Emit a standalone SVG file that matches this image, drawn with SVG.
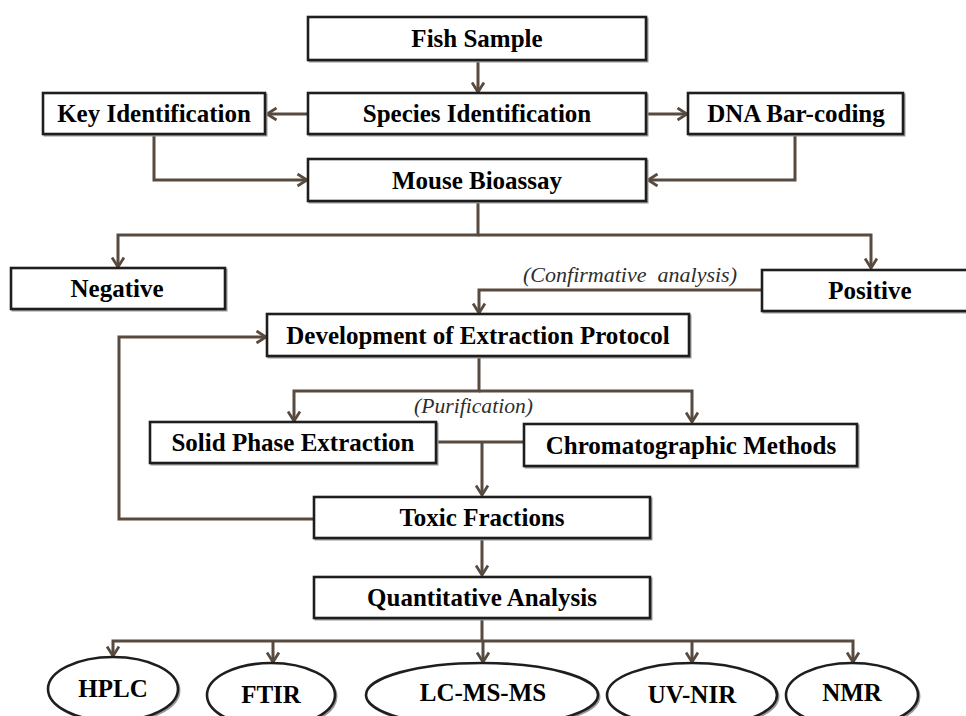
<svg xmlns="http://www.w3.org/2000/svg" width="966" height="716" viewBox="0 0 966 716">
  <defs>
    <style>
      .box { fill: #ffffff; stroke: #1e1e1e; stroke-width: 2.6; }
      .shadow { fill: none; stroke: #9a9a9a; stroke-width: 2; }
      .oval { fill: #ffffff; stroke: #1e1e1e; stroke-width: 2.6; }
      .label { font-family: "Liberation Serif", "Times New Roman", serif; font-weight: bold; font-size: 25px; fill: #000000; text-anchor: middle; }
      .note { font-family: "Liberation Serif", "Times New Roman", serif; font-style: italic; font-size: 21px; fill: #2e2e2e; }
      .wire { fill: none; stroke: #584a3e; stroke-width: 3; stroke-linejoin: miter; }
    </style>
    <marker id="arrow" viewBox="0 0 12 14" refX="11" refY="7" markerWidth="12" markerHeight="14" markerUnits="userSpaceOnUse" orient="auto">
      <path d="M1.5,1 L11,7 L1.5,13" fill="none" stroke="#584a3e" stroke-width="2.8"/>
    </marker>
  </defs>
  <rect width="966" height="716" fill="#ffffff"/>

  <!-- connectors -->
  <g id="connectors">
    <path class="wire" d="M478,61 V92" marker-end="url(#arrow)"/>
    <path class="wire" d="M308,114 H267" marker-end="url(#arrow)"/>
    <path class="wire" d="M647,114 H687" marker-end="url(#arrow)"/>
    <path class="wire" d="M154,134 V180 H307" marker-end="url(#arrow)"/>
    <path class="wire" d="M795,134 V180 H648" marker-end="url(#arrow)"/>
    <path class="wire" d="M478,202 V235 H118 V267" marker-end="url(#arrow)"/>
    <path class="wire" d="M478,235 H871 V268" marker-end="url(#arrow)"/>
    <path class="wire" d="M762,290 H479 V313" marker-end="url(#arrow)"/>
    <path class="wire" d="M314,519 H119 V337 H266" marker-end="url(#arrow)"/>
    <path class="wire" d="M479,357 V391 H294 V421" marker-end="url(#arrow)"/>
    <path class="wire" d="M479,391 H692 V422" marker-end="url(#arrow)"/>
    <path class="wire" d="M437,442 H524"/>
    <path class="wire" d="M482,442 V495" marker-end="url(#arrow)"/>
    <path class="wire" d="M482,539 V575" marker-end="url(#arrow)"/>
    <path class="wire" d="M482,619 V641 H113 V656" marker-end="url(#arrow)"/>
    <path class="wire" d="M273,641 V662" marker-end="url(#arrow)"/>
    <path class="wire" d="M483,641 V662" marker-end="url(#arrow)"/>
    <path class="wire" d="M482,641 H853 V662" marker-end="url(#arrow)"/>
    <path class="wire" d="M692,641 V662" marker-end="url(#arrow)"/>
  </g>

  <!-- annotations on connectors -->
  <text class="note" x="523" y="282" textLength="214" lengthAdjust="spacingAndGlyphs" xml:space="preserve">(Confirmative  analysis)</text>
  <text class="note" x="414" y="413" textLength="119" lengthAdjust="spacingAndGlyphs">(Purification)</text>

  <g id="fish-sample">
    <rect class="shadow" x="309.5" y="18.5" width="338" height="43"/>
    <rect class="box" x="308" y="17" width="338" height="43"/>
    <text class="label" x="477" y="47">Fish Sample</text>
  </g>
  <g id="species-identification">
    <rect class="shadow" x="309.5" y="94.5" width="338" height="41"/>
    <rect class="box" x="308" y="93" width="338" height="41"/>
    <text class="label" x="477" y="122">Species Identification</text>
  </g>
  <g id="key-identification">
    <rect class="shadow" x="44.5" y="94.5" width="222" height="41"/>
    <rect class="box" x="43" y="93" width="222" height="41"/>
    <text class="label" x="154" y="122">Key Identification</text>
  </g>
  <g id="dna-bar-coding">
    <rect class="shadow" x="689.5" y="94.5" width="215" height="41"/>
    <rect class="box" x="688" y="93" width="215" height="41"/>
    <text class="label" x="796" y="122">DNA Bar-coding</text>
  </g>
  <g id="mouse-bioassay">
    <rect class="shadow" x="309.5" y="160.5" width="338" height="42"/>
    <rect class="box" x="308" y="159" width="338" height="42"/>
    <text class="label" x="477" y="189">Mouse Bioassay</text>
  </g>
  <g id="negative">
    <rect class="shadow" x="12.5" y="269.5" width="214" height="41"/>
    <rect class="box" x="11" y="268" width="214" height="41"/>
    <text class="label" x="117" y="297">Negative</text>
  </g>
  <g id="positive">
    <rect class="shadow" x="763.5" y="271.5" width="216" height="41"/>
    <rect class="box" x="762" y="270" width="216" height="41"/>
    <text class="label" x="870" y="299">Positive</text>
  </g>
  <g id="extraction-protocol">
    <rect class="shadow" x="268.5" y="315.5" width="422" height="42"/>
    <rect class="box" x="267" y="314" width="422" height="42"/>
    <text class="label" x="478" y="344">Development of Extraction Protocol</text>
  </g>
  <g id="solid-phase-extraction">
    <rect class="shadow" x="151.5" y="423.5" width="286" height="41"/>
    <rect class="box" x="150" y="422" width="286" height="41"/>
    <text class="label" x="293" y="451">Solid Phase Extraction</text>
  </g>
  <g id="chromatographic-methods">
    <rect class="shadow" x="525.5" y="425.5" width="333" height="42"/>
    <rect class="box" x="524" y="424" width="333" height="42"/>
    <text class="label" x="691" y="454">Chromatographic Methods</text>
  </g>
  <g id="toxic-fractions">
    <rect class="shadow" x="315.5" y="498.5" width="336" height="41"/>
    <rect class="box" x="314" y="497" width="336" height="41"/>
    <text class="label" x="482" y="526">Toxic Fractions</text>
  </g>
  <g id="quantitative-analysis">
    <rect class="shadow" x="315.5" y="578.5" width="336" height="41"/>
    <rect class="box" x="314" y="577" width="336" height="41"/>
    <text class="label" x="482" y="606">Quantitative Analysis</text>
  </g>

  <g id="hplc">
    <ellipse class="shadow" cx="114.5" cy="690.5" rx="65" ry="32"/>
    <ellipse class="oval" cx="113" cy="689" rx="65" ry="32"/>
    <text class="label" x="113" y="697">HPLC</text>
  </g>
  <g id="ftir">
    <ellipse class="shadow" cx="272.5" cy="696.5" rx="64" ry="32"/>
    <ellipse class="oval" cx="271" cy="695" rx="64" ry="32"/>
    <text class="label" x="271" y="703">FTIR</text>
  </g>
  <g id="lc-ms-ms">
    <ellipse class="shadow" cx="483.5" cy="696.5" rx="116" ry="32"/>
    <ellipse class="oval" cx="482" cy="695" rx="116" ry="32"/>
    <text class="label" x="483" y="701">LC-MS-MS</text>
  </g>
  <g id="uv-nir">
    <ellipse class="shadow" cx="693.5" cy="696.5" rx="85" ry="32"/>
    <ellipse class="oval" cx="692" cy="695" rx="85" ry="32"/>
    <text class="label" x="692" y="703">UV-NIR</text>
  </g>
  <g id="nmr">
    <ellipse class="shadow" cx="853.5" cy="696.5" rx="66" ry="32"/>
    <ellipse class="oval" cx="852" cy="695" rx="66" ry="32"/>
    <text class="label" x="852" y="701">NMR</text>
  </g>
</svg>
